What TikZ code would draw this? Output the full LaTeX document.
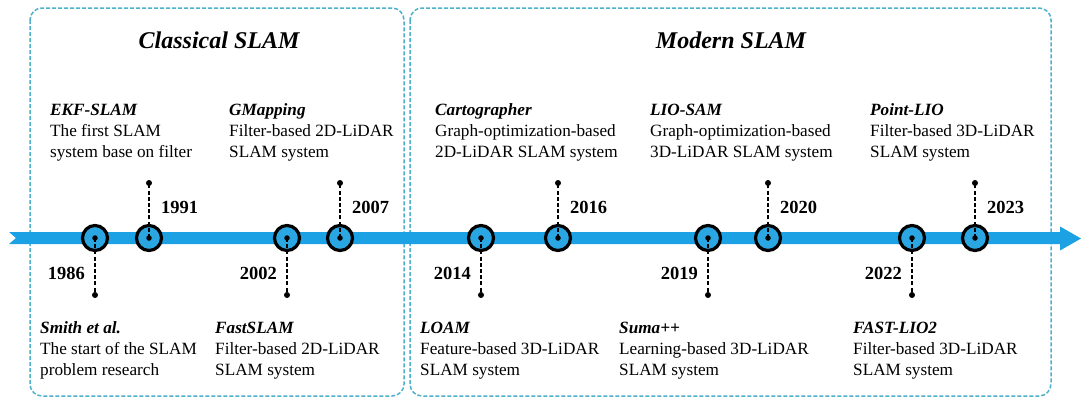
\documentclass[tikz,border=0pt]{standalone}
\usepackage{fontspec}
\setmainfont{Liberation Serif}
\definecolor{lineblue}{HTML}{1CA2E4}
\definecolor{ringblue}{HTML}{2AA7E2}
\definecolor{framecyan}{HTML}{4FB0CC}
\newcommand{\evt}[3]{\begin{tabular}[t]{@{}l@{}}\textbf{\textit{#1}}\\#2\\#3\end{tabular}}
\begin{document}
\begin{tikzpicture}[x=1pt,y=-1pt,
  era/.style={draw=framecyan, line width=1.5pt, dash pattern=on 4pt off 2pt, rounded corners=12pt},
  eratitle/.style={font=\fontsize{24}{28}\selectfont\bfseries\itshape, anchor=base, inner sep=0},
  milestone/.style={circle, draw=black, line width=3.2pt, fill=ringblue, minimum size=25pt, inner sep=0},
  hub/.style={circle, fill=black, minimum size=5.5pt, inner sep=0},
  tipdot/.style={circle, fill=black, minimum size=6pt, inner sep=0},
  leader/.style={draw=black, line width=1.4pt, dash pattern=on 4pt off 2.2pt},
  yearlbl/.style={font=\fontsize{18.5}{21}\selectfont\bfseries, inner sep=0},
  desc/.style={font=\fontsize{17.2}{21.3}\selectfont, anchor=base west, inner sep=0}
]
\useasboundingbox (0,0) rectangle (1081,407);
\fill[white] (0,0) rectangle (1081,407);

% era frames
\draw[era] (30,8) rectangle (404,396);
\draw[era] (410,8) rectangle (1051,396);
\node[eratitle] (classical) at (219,48) {Classical SLAM};
\node[eratitle] (modern) at (731,48) {Modern SLAM};

% time axis with swallowtail and arrow head
\fill[lineblue] (9,232) -- (1060,232) -- (1060,226.5) -- (1081,238.5)
  -- (1060,250.5) -- (1060,244) -- (9,244) -- (16,238) -- cycle;

% milestones with leaders pointing up
\foreach \yr/\x in {1991/149, 2007/340, 2016/558, 2020/768, 2023/975} {
  \node[milestone] (c\yr) at (\x,238) {};
  \node[tipdot] (t\yr) at (\x,183) {};
  \draw[leader] (c\yr.center) -- (t\yr.center);
  \node[hub] (h\yr) at (c\yr.center) {};
  \node[yearlbl, anchor=west] (y\yr) at (\x+12,207) {\yr};
}
% milestones with leaders pointing down
\foreach \yr/\x in {1986/95, 2002/287, 2014/481, 2019/708, 2022/912} {
  \node[milestone] (c\yr) at (\x,238) {};
  \node[tipdot] (t\yr) at (\x,295) {};
  \draw[leader] (c\yr.center) -- (t\yr.center);
  \node[hub] (h\yr) at (c\yr.center) {};
  \node[yearlbl, anchor=east] (y\yr) at (\x-10,273) {\yr};
}

% descriptions above the axis
\node[desc] (ekf) at (50,115) {\evt{EKF-SLAM}{The first SLAM}{system base on filter}};
\node[desc] (gmap) at (229,115) {\evt{GMapping}{Filter-based 2D-LiDAR}{SLAM system}};
\node[desc] (carto) at (435,115) {\evt{Cartographer}{Graph-optimization-based}{2D-LiDAR SLAM system}};
\node[desc] (liosam) at (650,115) {\evt{LIO-SAM}{Graph-optimization-based}{3D-LiDAR SLAM system}};
\node[desc] (pointlio) at (870,115) {\evt{Point-LIO}{Filter-based 3D-LiDAR}{SLAM system}};

% descriptions below the axis
\node[desc] (smith) at (40,333) {\evt{Smith et al.}{The start of the SLAM}{problem research}};
\node[desc] (fastslam) at (215,333) {\evt{FastSLAM}{Filter-based 2D-LiDAR}{SLAM system}};
\node[desc] (loam) at (420,333) {\evt{LOAM}{Feature-based 3D-LiDAR}{SLAM system}};
\node[desc] (suma) at (619,333) {\evt{Suma++}{Learning-based 3D-LiDAR}{SLAM system}};
\node[desc] (fastlio) at (853,333) {\evt{FAST-LIO2}{Filter-based 3D-LiDAR}{SLAM system}};
\end{tikzpicture}
\end{document}
